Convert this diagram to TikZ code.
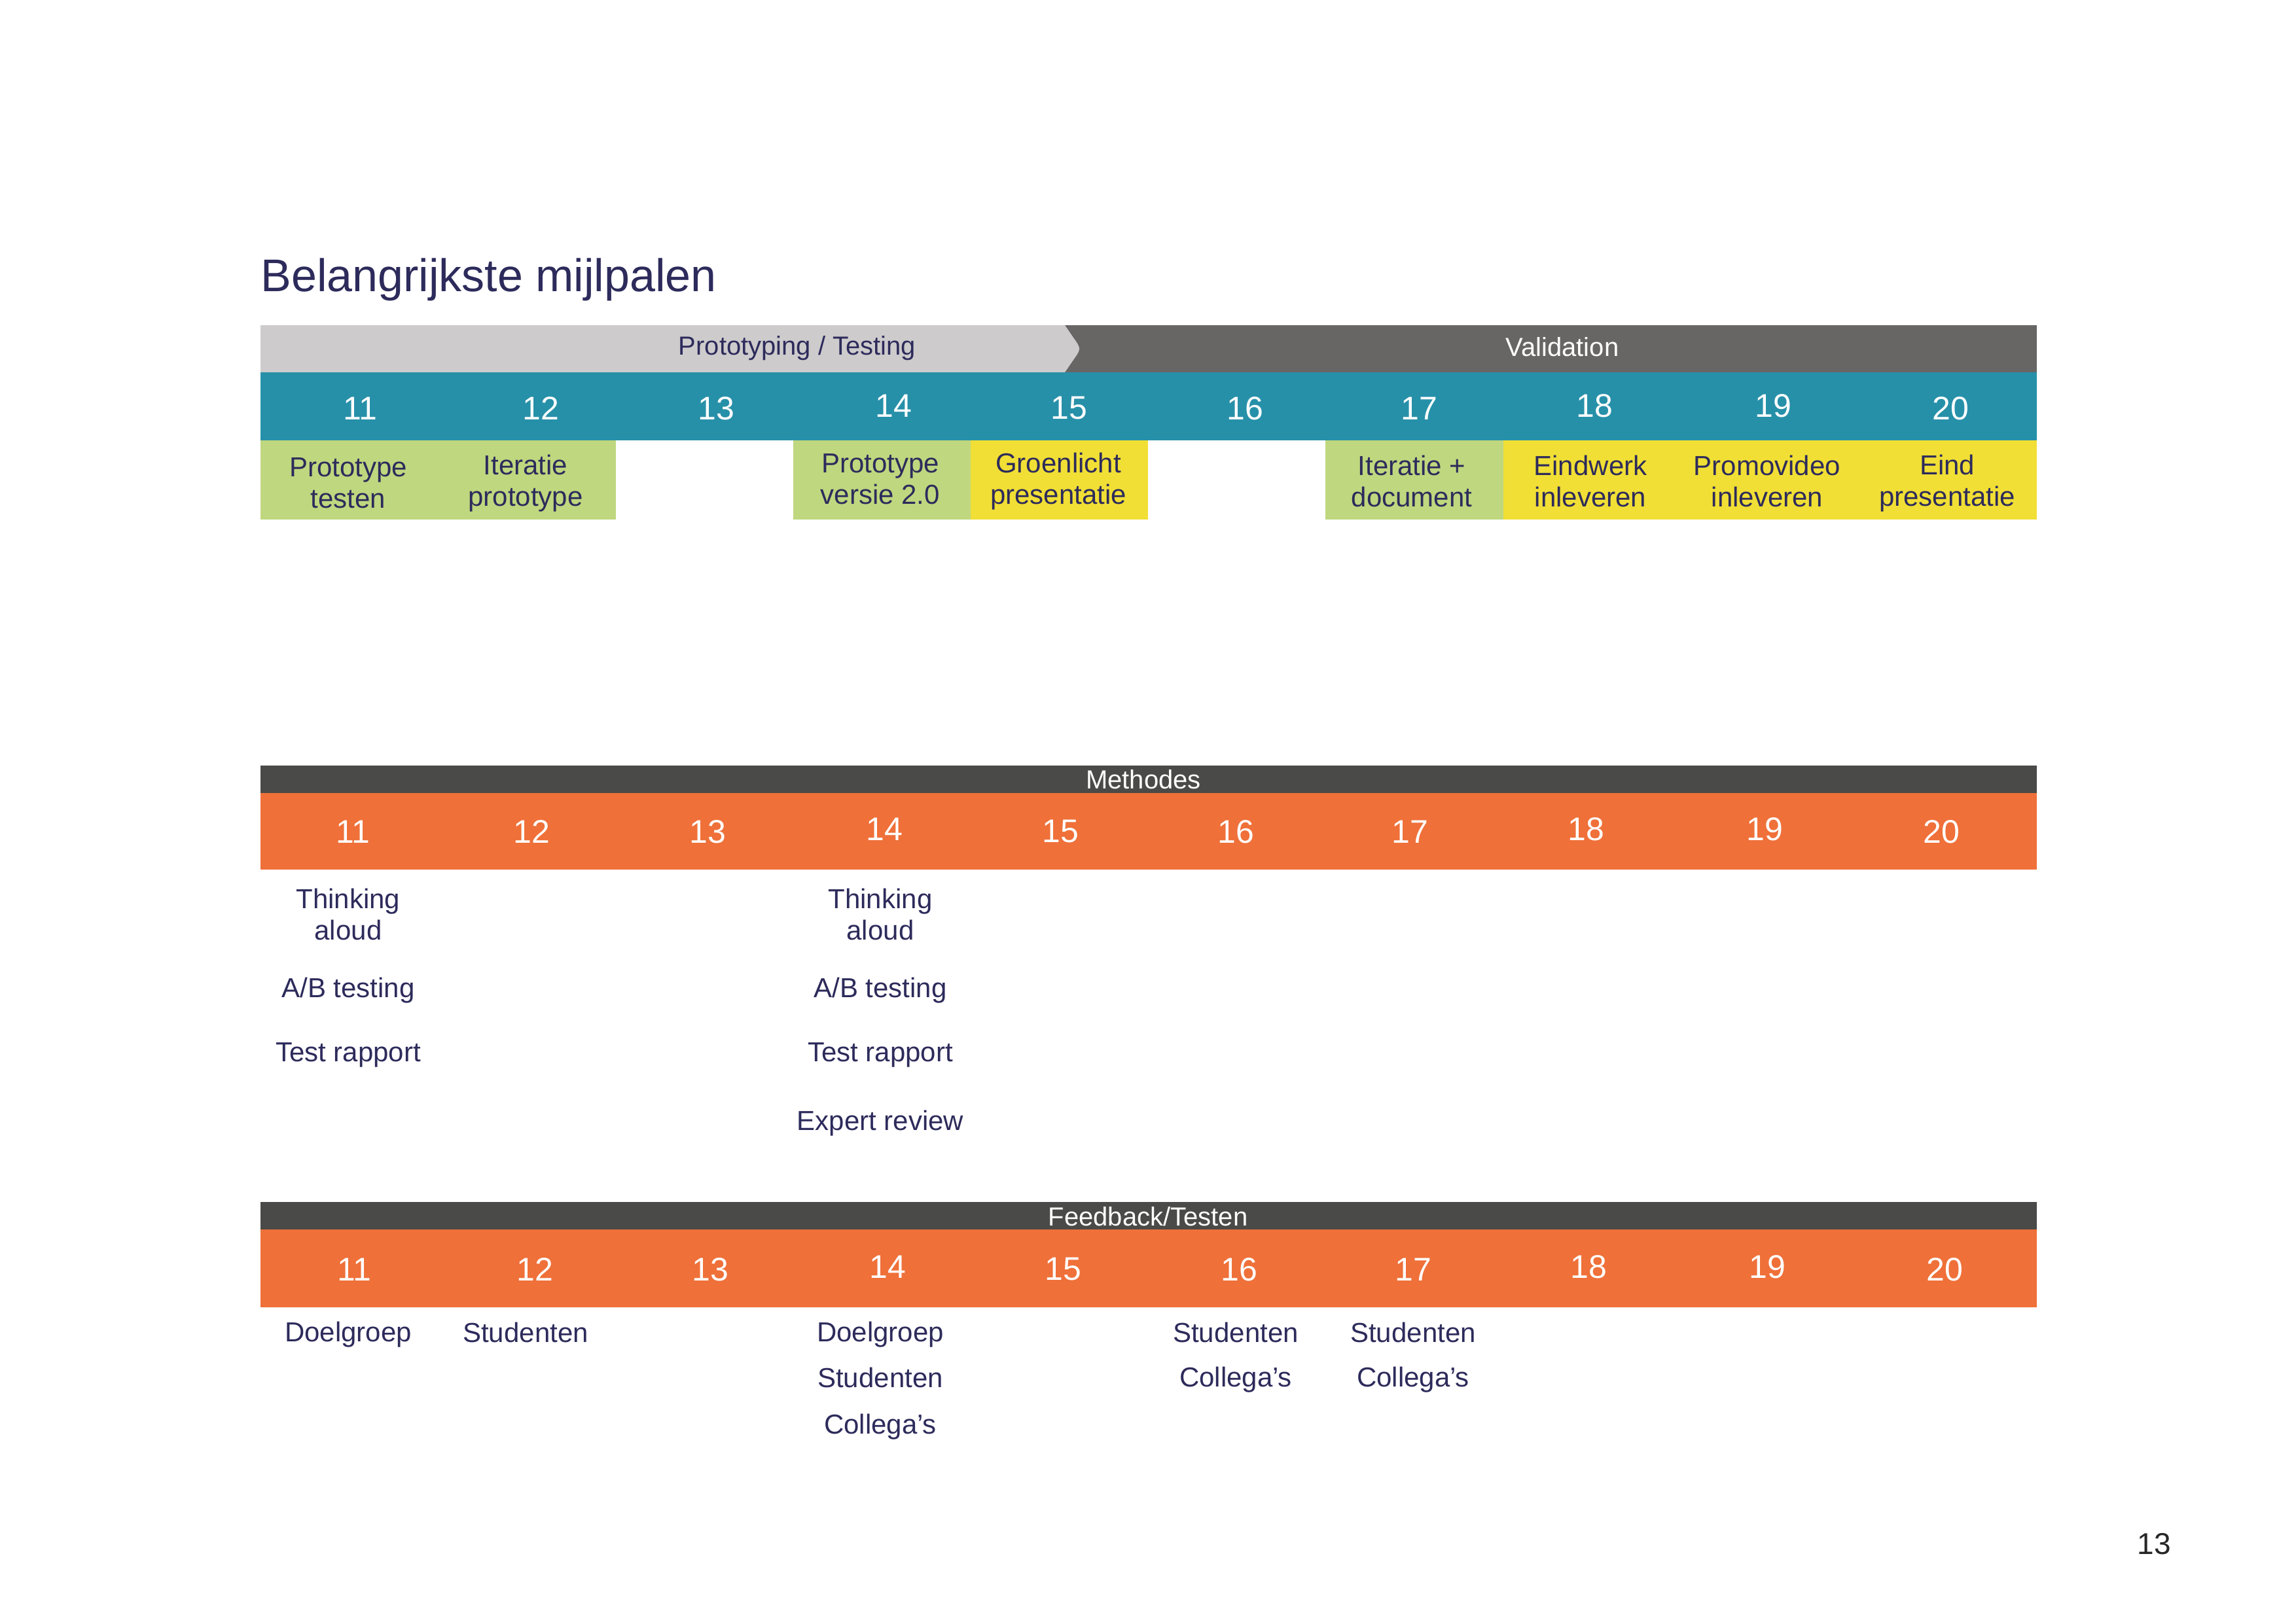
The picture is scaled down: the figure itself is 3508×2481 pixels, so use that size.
\documentclass[tikz,border=0pt]{standalone}
\usepackage{fontspec}
\setmainfont{Liberation Sans}
\definecolor{navy}{HTML}{2D2B5B}
\definecolor{lightgrey}{HTML}{CDCBCC}
\definecolor{darkgrey}{HTML}{686665}
\definecolor{tealbar}{HTML}{2790A9}
\definecolor{greenbox}{HTML}{BFD77F}
\definecolor{yellowbox}{HTML}{F1DF35}
\definecolor{headdark}{HTML}{4A4A48}
\definecolor{orangebar}{HTML}{EF7039}
\begin{document}
\begin{tikzpicture}[x=0.5pt,y=-0.5pt,
  txt/.style={font=\fontsize{21}{24}\selectfont, text=navy, align=center, inner sep=0pt},
  num/.style={font=\fontsize{25}{30}\selectfont, text=white, inner sep=0pt},
  barlbl/.style={font=\fontsize{20}{24}\selectfont, inner sep=0pt},
  titlestyle/.style={font=\fontsize{35}{42}\selectfont, text=navy, inner sep=0pt, anchor=base west}]
\useasboundingbox (0,0) rectangle (3508,2481);
\fill[white] (0,0) rectangle (3508,2481);

% title
\node[titlestyle] (title) at (398,445) {Belangrijkste mijlpalen};

% ---- top phase bar
\fill[darkgrey] (1600,497) rectangle (3112,569);
\fill[lightgrey] (398,497) -- (1627,497) -- (1640,516) .. controls (1652,533) .. (1640,550) -- (1627,569) -- (398,569) -- cycle;
\node[barlbl, text=navy] (proto) at (1218,532) {Prototyping / Testing};
\node[barlbl, text=white] (valid) at (2387,530) {Validation};

% teal bar
\fill[tealbar] (398,569) rectangle (3112,673);
\foreach \n/\x/\y in {11/550/624,12/826/624,13/1094/624,14/1365/620,15/1633/624,16/1902/624,17/2168/624,18/2436/620,19/2709/620,20/2980/624}
  \node[num] (t\n) at (\x,\y) {\n};

% milestone boxes
\fill[greenbox] (398,673) rectangle (941,794);
\fill[greenbox] (1212,673) rectangle (1483,794);
\fill[yellowbox] (1483,673) rectangle (1754,794);
\fill[greenbox] (2025,673) rectangle (2297,794);
\fill[yellowbox] (2297,673) rectangle (3112,794);

\node[txt] (m11) at (532,738) {Prototype\\testen};
\node[txt] (m12) at (803,739) {Iteratie\\prototype};
\node[txt] (m14) at (1345,732) {Prototype\\versie 2.0};
\node[txt] (m15) at (1617,736) {Groenlicht\\presentatie};
\node[txt] (m17) at (2157,735) {Iteratie +\\document};
\node[txt] (m18) at (2430,735) {Eindwerk\\inleveren};
\node[txt] (m19) at (2700,735) {Promovideo\\inleveren};
\node[txt] (m20) at (2975,739) {Eind\\presentatie};

% ---- Methodes
\fill[headdark] (398,1170) rectangle (3112,1212);
\node[barlbl, text=white] (meth) at (1747,1191) {Methodes};
\fill[orangebar] (398,1212) rectangle (3112,1329);
\foreach \n/\x/\y in {11/539/1271,12/812/1271,13/1081/1271,14/1351/1267,15/1620/1271,16/1888/1271,17/2154/1271,18/2423/1267,19/2696/1267,20/2966/1271}
  \node[num] (o\n) at (\x,\y) {\n};

\node[txt] (a11) at (532,1397) {Thinking\\aloud};
\node[txt] (b11) at (532,1514) {A/B testing};
\node[txt] (c11) at (532,1612) {Test rapport};
\node[txt] (a14) at (1345,1397) {Thinking\\aloud};
\node[txt] (b14) at (1345,1514) {A/B testing};
\node[txt] (c14) at (1345,1612) {Test rapport};
\node[txt] (d14) at (1345,1717) {Expert review};

% ---- Feedback/Testen
\fill[headdark] (398,1837) rectangle (3112,1879);
\node[barlbl, text=white] (feed) at (1754,1859) {Feedback/Testen};
\fill[orangebar] (398,1879) rectangle (3112,1998);
\foreach \n/\x/\y in {11/541/1940,12/817/1940,13/1085/1940,14/1356/1936,15/1624/1940,16/1893/1940,17/2159/1940,18/2427/1936,19/2700/1936,20/2971/1940}
  \node[num] (f\n) at (\x,\y) {\n};

\node[txt] (g11) at (532,2040) {Doelgroep};
\node[txt] (g12) at (803,2036) {Studenten};
\node[txt] (g14a) at (1345,2040) {Doelgroep};
\node[txt] (g14b) at (1345,2105) {Studenten};
\node[txt] (g14c) at (1345,2181) {Collega’s};
\node[txt] (g16a) at (1888,2036) {Studenten};
\node[txt] (g16b) at (1888,2109) {Collega’s};
\node[txt] (g17a) at (2159,2036) {Studenten};
\node[txt] (g17b) at (2159,2109) {Collega’s};

% page number
\node[font=\fontsize{23}{28}\selectfont, text=black!85, inner sep=0pt] (page) at (3291,2360) {13};
\end{tikzpicture}
\end{document}
